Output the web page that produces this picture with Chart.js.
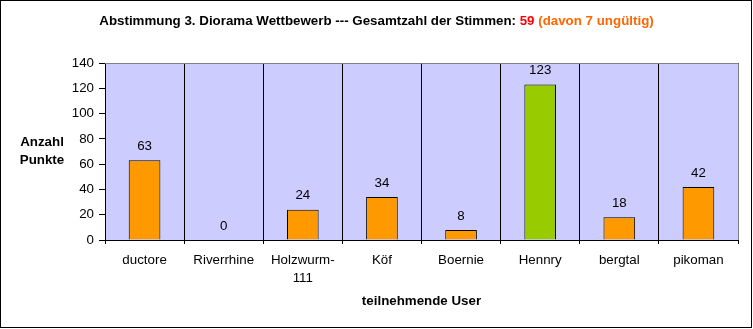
<!DOCTYPE html>
<html>
<head>
<meta charset="utf-8">
<script src="https://cdn.jsdelivr.net/npm/chart.js@4.4.1/dist/chart.umd.min.js"></script>
<style>
  body { margin: 0; background: #fff; }
  #wrap { width: 753px; height: 329px; }
</style>
</head>
<body>
<div id="wrap"><canvas id="chart" width="753" height="329"></canvas></div>
<script>
// data
const users = ['ductore', 'Riverrhine', ['Holzwurm-', '111'], 'Köf', 'Boernie', 'Hennry', 'bergtal', 'pikoman'];
const points = [63, 0, 24, 34, 8, 123, 18, 42];
const barColors = ['#FF9900', '#FF9900', '#FF9900', '#FF9900', '#FF9900', '#99CC00', '#FF9900', '#FF9900'];
const yMin = 0;
const yMax = 140;
const yStep = 20;
const titleParts = [
    { text: 'Abstimmung 3. Diorama Wettbewerb --- Gesamtzahl der Stimmen: ', color: '#000000' },
    { text: '59 ', color: '#FF0000' },
    { text: '(davon 7 ungültig)', color: '#FF6600' }
];
const yTitle = ['Anzahl', 'Punkte'];
const xTitle = 'teilnehmende User';

const FONT = '"Liberation Sans", Arial, sans-serif';
const SIZE = 13.33; // 10pt

// background, value labels, titles and frame
const decorations = {
    id: 'decorations',
    beforeDraw(chart) {
        const { ctx, chartArea: a } = chart;
        ctx.save();
        ctx.fillStyle = '#FFFFFF';
        ctx.fillRect(0, 0, chart.width, chart.height);
        ctx.fillStyle = '#CCCCFF';
        ctx.fillRect(a.left, a.top, a.right - a.left, a.bottom - a.top);
        ctx.restore();
    },
    afterDatasetsDraw(chart) {
        const ctx = chart.ctx;
        const meta = chart.getDatasetMeta(0);
        ctx.save();
        ctx.font = SIZE + 'px ' + FONT;
        ctx.fillStyle = '#000000';
        ctx.textAlign = 'center';
        ctx.textBaseline = 'middle';
        meta.data.forEach((bar, i) => {
            ctx.fillText(String(points[i]), bar.x, bar.y - 14);
        });
        ctx.restore();
    },
    afterDraw(chart) {
        const { ctx, chartArea: a } = chart;
        ctx.save();

        // grey top and right edge of the plot area
        ctx.strokeStyle = '#808080';
        ctx.lineWidth = 1;
        ctx.beginPath();
        ctx.moveTo(a.left, a.top + 0.5);
        ctx.lineTo(Math.round(a.right) + 0.5, a.top + 0.5);
        ctx.lineTo(Math.round(a.right) + 0.5, a.bottom);
        ctx.stroke();

        // chart title in three colours
        ctx.font = 'bold ' + SIZE + 'px ' + FONT;
        ctx.textBaseline = 'middle';
        ctx.textAlign = 'left';
        const total = titleParts.reduce((s, p) => s + ctx.measureText(p.text).width, 0);
        let x = chart.width / 2 - total / 2;
        titleParts.forEach(p => {
            ctx.fillStyle = p.color;
            ctx.fillText(p.text, x, 21);
            x += ctx.measureText(p.text).width;
        });

        // axis titles, horizontal as in the original
        ctx.fillStyle = '#000000';
        ctx.textAlign = 'center';
        ctx.fillText(yTitle[0], 42, 142);
        ctx.fillText(yTitle[1], 42, 160);
        ctx.fillText(xTitle, (a.left + a.right) / 2, 301);

        // outer frame
        ctx.strokeStyle = '#000000';
        ctx.strokeRect(0.5, 0.5, 751, 327);
        ctx.restore();
    }
};

new Chart(document.getElementById('chart'), {
    type: 'bar',
    data: {
        labels: users,
        datasets: [{
            data: points,
            backgroundColor: barColors,
            borderColor: '#000000',
            borderWidth: 1,
            categoryPercentage: 1,
            barPercentage: 0.4
        }]
    },
    options: {
        responsive: false,
        animation: false,
        layout: {
            padding: { top: 63, right: 15, left: 0, bottom: 0 }
        },
        plugins: {
            legend: { display: false },
            title: { display: false },
            tooltip: { enabled: false }
        },
        scales: {
            x: {
                offset: true,
                grid: {
                    offset: true,
                    color: '#000000',
                    lineWidth: 1,
                    tickLength: 4,
                    drawOnChartArea: true
                },
                border: { color: '#000000', width: 1 },
                ticks: {
                    color: '#000000',
                    font: { family: FONT, size: SIZE, lineHeight: 1.35 },
                    padding: 7,
                    maxRotation: 0,
                    autoSkip: false
                },
                afterFit(scale) { scale.height = 89; }
            },
            y: {
                min: yMin,
                max: yMax,
                grid: {
                    drawOnChartArea: false,
                    color: '#000000',
                    tickLength: 6
                },
                border: { color: '#000000', width: 1 },
                ticks: {
                    stepSize: yStep,
                    color: '#000000',
                    font: { family: FONT, size: SIZE },
                    padding: 5
                },
                afterFit(scale) { scale.width = 105; }
            }
        }
    },
    plugins: [decorations]
});
</script>
</body>
</html>
